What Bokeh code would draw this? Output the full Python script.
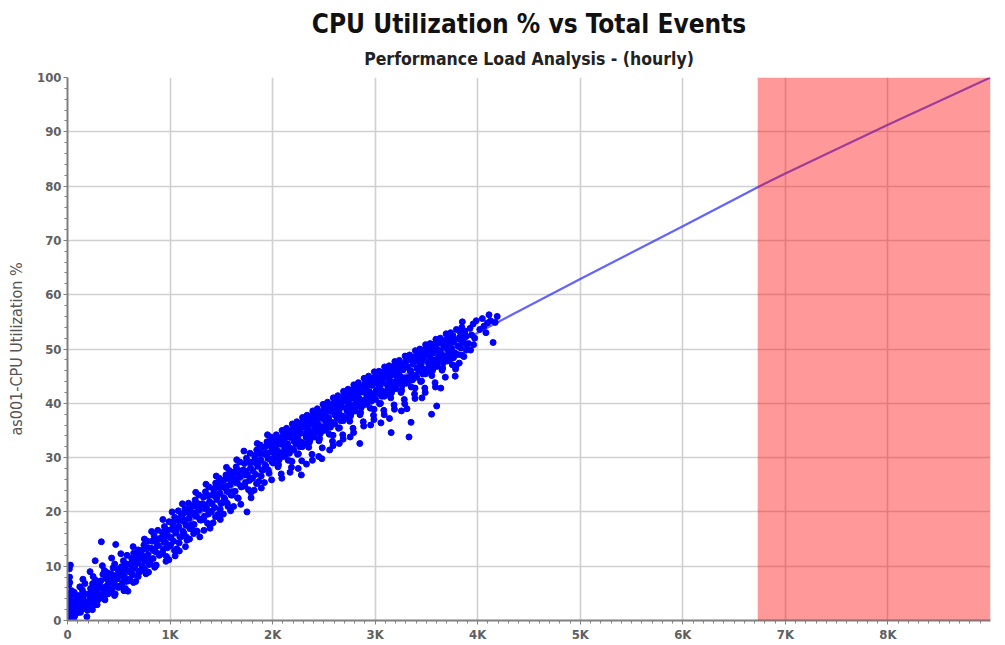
from bokeh.plotting import figure
from bokeh.models import (Range1d, FixedTicker, BoxAnnotation, Title, ColumnDataSource)
from bokeh.embed import file_html
from bokeh.resources import INLINE

# ---------------- data ----------------
title_text = "CPU Utilization % vs Total Events"
subtitle_text = "Performance Load Analysis - (hourly)"
y_label = "as001-CPU Utilization %"

x_ticks = [0, 1000, 2000, 3000, 4000, 5000, 6000, 7000, 8000]
x_tick_labels = ["0", "1K", "2K", "3K", "4K", "5K", "6K", "7K", "8K"]
y_ticks = [0, 10, 20, 30, 40, 50, 60, 70, 80, 90, 100]

threshold_start = 6730   # start of red "overload" zone (events)

# fitted trend line
trend_events = [0, 500, 1000, 1500, 2000, 2500, 3000, 3500, 3900, 4000, 5000, 6000, 6730, 7000, 8000, 9000]
trend_cpu = [0.5, 8.0, 15.0, 23.0, 30.5, 36.8, 42.3, 47.4, 52.0, 53.0, 62.9, 72.6, 79.8, 82.3, 91.3, 100.0]

# hourly samples, 0 - 1000 events
events_low = [5, 10, 8, 15, 12, 20, 18, 25, 30, 22, 35, 40, 45, 28,
    50, 60, 70, 80, 90, 55, 65, 75, 85, 95,
    105, 115, 125, 135, 145, 155, 165, 175, 185, 195, 120, 150, 110, 170,
    205, 215, 225, 235, 245, 255, 265, 275, 285, 295, 220, 270, 250, 290,
    305, 315, 325, 335, 345, 355, 365, 375, 385, 395, 330, 340, 360, 390,
    405, 415, 425, 435, 445, 455, 465, 475, 485, 495, 470, 430, 460, 490,
    505, 515, 525, 535, 545, 555, 565, 575, 585, 595, 550, 520, 580, 540,
    605, 615, 625, 635, 645, 655, 665, 675, 685, 695, 640, 660, 690, 620,
    705, 715, 725, 735, 745, 755, 765, 775, 785, 795, 710, 750, 780, 730, 790,
    805, 815, 825, 835, 845, 855, 865, 875, 885, 895, 820, 850, 880, 840,
    905, 915, 925, 935, 945, 955, 965, 975, 985, 995, 930, 960, 990, 950]
cpu_low = [0.5, 2.0, 3.5, 5.0, 6.5, 8.0, 9.5, 1.0, 4.0, 7.0, 2.5, 5.5, 3.0, 10.2,
    1.2, 3.0, 0.8, 2.2, 4.5, 4.8, 5.2, 1.8, 3.6, 2.8,
    1.5, 3.2, 4.4, 2.1, 5.6, 3.8, 2.6, 4.9, 3.3, 1.9, 6.2, 7.6, 4.6, 6.8,
    2.8, 4.6, 5.9, 3.5, 6.8, 4.2, 2.9, 7.4, 5.1, 3.8, 9.0, 11.0, 8.1, 6.3,
    3.9, 6.0, 7.3, 4.6, 8.5, 5.5, 3.8, 7.9, 6.4, 4.9, 14.5, 10.1, 9.2, 8.8,
    5.1, 7.4, 8.6, 5.8, 9.7, 6.9, 4.9, 8.3, 7.7, 6.1, 14.0, 11.5, 10.4, 9.4,
    6.2, 8.8, 9.9, 7.0, 11.0, 8.1, 5.9, 10.4, 9.1, 7.3, 5.5, 12.3, 12.0, 8.9,
    7.6, 10.2, 11.5, 8.4, 12.4, 9.6, 7.2, 11.8, 10.6, 8.8, 13.6, 11.0, 13.0, 9.1,
    9.0, 11.6, 12.9, 9.8, 13.9, 11.0, 8.6, 13.2, 12.1, 10.3, 9.2, 15.0, 14.6, 11.4, 8.9,
    10.6, 13.3, 14.6, 11.4, 15.6, 12.7, 10.2, 14.9, 13.8, 12.0, 16.4, 9.8, 16.6, 13.0,
    12.2, 15.0, 16.2, 13.1, 17.3, 14.4, 11.8, 16.6, 15.5, 13.7, 18.6, 10.9, 18.2, 15.6]

# 1000 - 2000 events
events_mid = [1005, 1015, 1025, 1035, 1045, 1055, 1065, 1075, 1085, 1095, 1020, 1050, 1080, 1040, 1090,
    1105, 1115, 1125, 1135, 1145, 1155, 1165, 1175, 1185, 1195, 1120, 1150, 1180, 1140, 1190,
    1205, 1215, 1225, 1235, 1245, 1255, 1265, 1275, 1285, 1295, 1230, 1250, 1280, 1240, 1290,
    1305, 1315, 1325, 1335, 1345, 1355, 1365, 1375, 1385, 1395, 1330, 1350, 1380, 1340, 1390,
    1405, 1415, 1425, 1435, 1445, 1455, 1465, 1475, 1485, 1495, 1420, 1450, 1480, 1440, 1490,
    1505, 1515, 1525, 1535, 1545, 1555, 1565, 1575, 1585, 1595, 1520, 1550, 1580, 1540, 1590,
    1605, 1615, 1625, 1635, 1645, 1655, 1665, 1675, 1685, 1695, 1620, 1650, 1680, 1640, 1690,
    1705, 1715, 1725, 1735, 1745, 1755, 1765, 1775, 1785, 1795, 1750, 1720, 1780, 1740, 1790,
    1805, 1815, 1825, 1835, 1845, 1855, 1865, 1875, 1885, 1895, 1820, 1850, 1880, 1840, 1890,
    1905, 1915, 1925, 1935, 1945, 1955, 1965, 1975, 1985, 1995, 1920, 1950, 1980, 1940, 1990]
cpu_mid = [13.9, 16.8, 18.1, 14.6, 19.0, 16.1, 13.2, 18.4, 17.3, 15.4, 20.0, 11.9, 20.2, 16.6, 12.8,
    15.4, 18.4, 19.6, 16.1, 20.6, 17.6, 14.8, 19.9, 18.8, 16.9, 21.5, 13.6, 21.6, 18.2, 15.0,
    17.0, 19.9, 21.2, 17.7, 22.2, 19.2, 16.4, 21.5, 20.4, 18.5, 16.0, 23.6, 23.1, 19.8, 15.4,
    18.5, 21.5, 22.7, 19.2, 23.7, 20.7, 17.9, 23.0, 21.9, 20.0, 16.6, 25.1, 24.6, 21.3, 17.0,
    20.1, 23.1, 24.3, 20.8, 25.3, 22.3, 19.5, 24.6, 23.5, 21.6, 18.0, 26.6, 26.2, 22.9, 18.6,
    21.6, 24.6, 25.8, 22.3, 26.8, 23.8, 21.0, 26.1, 25.0, 23.1, 19.6, 28.2, 27.6, 24.4, 20.2,
    23.1, 26.1, 27.3, 23.8, 28.3, 25.3, 22.5, 27.6, 26.5, 24.6, 21.0, 29.6, 29.2, 25.9, 21.4,
    24.7, 27.7, 28.9, 25.4, 29.9, 26.9, 24.1, 29.2, 28.1, 26.2, 20.0, 31.2, 30.8, 27.5, 22.6,
    26.2, 29.2, 30.4, 26.9, 31.4, 28.4, 25.6, 30.7, 29.6, 27.7, 24.0, 32.6, 32.3, 29.0, 24.4,
    27.7, 30.7, 31.9, 28.4, 32.9, 29.9, 27.1, 32.2, 31.1, 29.2, 25.4, 34.2, 33.8, 30.5, 25.9]

# 2000 - 3000 events
events_high = [2005, 2012, 2020, 2028, 2036, 2044, 2052, 2060, 2068, 2076, 2084, 2092, 2098, 2040, 2090, 2016, 2064,
    2105, 2112, 2120, 2128, 2136, 2144, 2152, 2160, 2168, 2176, 2184, 2192, 2198, 2140, 2170, 2116, 2164,
    2205, 2212, 2220, 2228, 2236, 2244, 2252, 2260, 2268, 2276, 2284, 2292, 2298, 2240, 2250, 2216, 2264, 2280,
    2305, 2312, 2320, 2328, 2336, 2344, 2352, 2360, 2368, 2376, 2384, 2392, 2398, 2340, 2330, 2316, 2364, 2388,
    2405, 2412, 2420, 2428, 2436, 2444, 2452, 2460, 2468, 2476, 2484, 2492, 2498, 2440, 2450, 2416, 2464, 2480,
    2505, 2512, 2520, 2528, 2536, 2544, 2552, 2560, 2568, 2576, 2584, 2592, 2598, 2540, 2556, 2516, 2564, 2590,
    2605, 2612, 2620, 2628, 2636, 2644, 2652, 2660, 2668, 2676, 2684, 2692, 2698, 2640, 2650, 2616, 2664, 2688,
    2705, 2712, 2720, 2728, 2736, 2744, 2752, 2760, 2768, 2776, 2784, 2792, 2798, 2740, 2756, 2716, 2764, 2790,
    2805, 2812, 2820, 2828, 2836, 2844, 2852, 2860, 2868, 2876, 2884, 2892, 2898, 2840, 2850, 2816, 2864, 2888,
    2905, 2912, 2920, 2928, 2936, 2944, 2952, 2960, 2968, 2976, 2984, 2992, 2998, 2940, 2956, 2916, 2964, 2988]
cpu_high = [29.0, 32.0, 33.3, 30.1, 34.2, 31.3, 28.3, 33.5, 32.5, 30.5, 27.0, 35.0, 34.0, 32.6, 26.2, 30.8, 29.6,
    30.2, 33.2, 34.5, 31.3, 35.4, 32.5, 29.5, 34.7, 33.7, 31.7, 28.2, 36.2, 35.2, 33.8, 27.3, 32.0, 30.8,
    31.4, 34.4, 35.7, 32.5, 36.6, 33.7, 30.7, 35.9, 34.9, 32.9, 29.4, 37.4, 36.4, 35.0, 28.0, 33.2, 32.0, 26.8,
    32.6, 35.6, 36.9, 33.7, 37.8, 34.9, 31.9, 37.1, 36.1, 34.1, 30.6, 38.6, 37.6, 36.2, 28.8, 34.4, 33.2, 29.5,
    33.8, 36.8, 38.1, 34.9, 39.0, 36.1, 33.1, 38.3, 37.3, 35.3, 31.8, 39.8, 38.8, 37.4, 30.2, 35.6, 34.4, 29.8,
    35.0, 38.0, 39.3, 36.1, 40.2, 37.3, 34.3, 39.5, 38.5, 36.5, 33.0, 41.0, 40.0, 38.6, 31.4, 36.8, 35.6, 32.2,
    36.2, 39.2, 40.5, 37.3, 41.4, 38.5, 35.5, 40.7, 39.7, 37.7, 34.2, 42.2, 41.2, 39.8, 32.6, 38.0, 36.8, 33.4,
    37.4, 40.4, 41.7, 38.5, 42.6, 39.7, 36.7, 41.9, 40.9, 38.9, 35.4, 43.4, 42.4, 41.0, 33.8, 39.2, 38.0, 34.6,
    38.6, 41.6, 42.9, 39.7, 43.8, 40.9, 37.9, 43.1, 42.1, 40.1, 36.6, 44.6, 43.6, 42.2, 32.6, 40.4, 39.2, 35.8,
    39.8, 42.8, 44.1, 40.9, 45.0, 42.1, 39.1, 44.3, 43.3, 41.3, 37.8, 45.8, 44.8, 43.4, 36.0, 41.6, 40.4, 37.0]

# 3000 - 4200 events
events_top = [3005, 3012, 3020, 3028, 3036, 3044, 3052, 3060, 3068, 3076, 3084, 3092, 3098, 3040, 3056, 3016, 3064, 3088,
    3105, 3112, 3120, 3128, 3136, 3144, 3152, 3160, 3168, 3176, 3184, 3192, 3198, 3140, 3156, 3116, 3164, 3188,
    3205, 3212, 3220, 3228, 3236, 3244, 3252, 3260, 3268, 3276, 3284, 3292, 3298, 3240, 3256, 3216, 3264, 3288,
    3305, 3312, 3320, 3328, 3336, 3344, 3352, 3360, 3368, 3376, 3384, 3392, 3398, 3310, 3330, 3350, 3364, 3388,
    3405, 3412, 3420, 3428, 3436, 3444, 3452, 3460, 3468, 3476, 3484, 3492, 3498, 3440, 3456, 3416, 3464, 3488,
    3505, 3512, 3520, 3528, 3536, 3544, 3552, 3560, 3568, 3576, 3584, 3592, 3598, 3540, 3550, 3516, 3564, 3588,
    3605, 3612, 3620, 3628, 3636, 3644, 3652, 3660, 3668, 3676, 3684, 3692, 3698, 3600, 3640, 3616, 3664,
    3705, 3712, 3720, 3728, 3736, 3744, 3752, 3760, 3768, 3776, 3784, 3792, 3740, 3716, 3764, 3780,
    3805, 3815, 3825, 3835, 3845, 3855, 3865, 3875, 3885, 3895, 3820, 3850,
    3910, 3925, 3940, 3955, 3970, 3985, 3930, 3960,
    4020, 4045, 4060, 4080, 4110, 4125, 4150, 4190, 4095, 4170]
cpu_top = [40.7, 43.7, 45.0, 41.8, 45.9, 43.0, 40.0, 45.2, 44.2, 42.2, 38.7, 46.7, 45.7, 44.3, 36.4, 42.5, 41.3, 37.9,
    41.7, 44.7, 46.0, 42.8, 46.9, 44.0, 41.0, 46.2, 45.2, 43.2, 39.7, 47.7, 46.7, 37.2, 34.6, 43.5, 42.3, 38.9,
    42.7, 45.7, 47.0, 43.8, 47.9, 45.0, 42.0, 47.2, 46.2, 44.2, 40.7, 48.7, 47.7, 46.3, 38.6, 44.5, 43.3, 39.9,
    43.7, 46.7, 48.0, 44.8, 48.9, 46.0, 43.0, 48.2, 47.2, 45.2, 41.7, 49.7, 48.7, 39.0, 33.8, 36.5, 44.3, 40.9,
    44.8, 47.8, 49.1, 45.9, 50.0, 47.1, 44.1, 49.3, 48.3, 46.3, 42.8, 50.8, 49.8, 48.4, 41.0, 46.6, 45.4, 42.0,
    45.8, 48.8, 50.1, 46.9, 51.0, 48.1, 45.1, 50.3, 49.3, 47.3, 43.8, 51.8, 50.8, 49.4, 38.0, 47.6, 46.4, 43.0,
    46.8, 49.8, 51.1, 47.9, 52.0, 49.1, 46.1, 51.3, 50.3, 48.3, 44.8, 52.8, 51.8, 39.5, 42.8, 48.6, 47.4,
    47.8, 50.8, 52.1, 48.9, 53.0, 50.1, 47.1, 52.3, 51.3, 49.3, 46.3, 53.6, 51.4, 49.6, 48.4, 45.0,
    49.0, 51.8, 53.2, 50.2, 54.0, 51.2, 48.6, 53.3, 52.3, 50.8, 47.4, 55.0,
    51.0, 53.8, 52.6, 54.6, 52.0, 55.2, 49.8, 50.8,
    53.6, 55.6, 54.2, 53.0, 56.3, 55.2, 51.2, 56.0, 54.8, 54.9]

# extra samples in the dense core of the cloud
events_core = [9, 27, 43, 58, 74, 89, 109, 127, 143, 158, 174, 189,
    209, 227, 243, 258, 274, 289, 309, 327, 343, 358, 374, 389,
    409, 427, 443, 458, 474, 489, 509, 527, 543, 558, 574, 589,
    609, 627, 643, 658, 674, 689, 709, 727, 743, 758, 774, 789,
    809, 827, 843, 858, 874, 889, 909, 927, 943, 958, 974, 989,
    1009, 1027, 1043, 1058, 1074, 1089, 1109, 1127, 1143, 1158, 1174, 1189,
    1209, 1227, 1243, 1258, 1274, 1289, 1309, 1327, 1343, 1358, 1374, 1389,
    1409, 1427, 1443, 1458, 1474, 1489, 1509, 1527, 1543, 1558, 1574, 1589,
    1609, 1627, 1643, 1658, 1674, 1689, 1709, 1727, 1743, 1758, 1774, 1789,
    1809, 1827, 1843, 1858, 1874, 1889, 1909, 1927, 1943, 1958, 1974, 1989,
    2009, 2027, 2043, 2058, 2074, 2089, 2109, 2127, 2143, 2158, 2174, 2189,
    2209, 2227, 2243, 2258, 2274, 2289, 2309, 2327, 2343, 2358, 2374, 2389,
    2409, 2427, 2443, 2458, 2474, 2489, 2509, 2527, 2543, 2558, 2574, 2589,
    2609, 2627, 2643, 2658, 2674, 2689, 2709, 2727, 2743, 2758, 2774, 2789,
    2809, 2827, 2843, 2858, 2874, 2889, 2909, 2927, 2943, 2958, 2974, 2989,
    3009, 3027, 3043, 3058, 3074, 3089, 3109, 3127, 3143, 3158, 3174, 3189,
    3209, 3227, 3243, 3258, 3274, 3289, 3309, 3327, 3343, 3358, 3374, 3389,
    3409, 3427, 3443, 3458, 3474, 3489, 3509, 3527, 3543, 3558, 3574, 3589,
    3609, 3627, 3643, 3658, 3674, 3689, 3709, 3727, 3743, 3758, 3774, 3789,
    3809, 3827, 3843, 3858, 3874, 3889]
cpu_core = [0.6, 1.9, 3.0, 0.3, 2.5, 1.4, 3.5, 1.5, 2.9, 4.6, 2.2, 0.7,
    3.6, 5.3, 2.0, 4.6, 6.0, 2.9, 6.9, 4.7, 6.1, 4.0, 5.4, 7.5,
    5.5, 7.0, 8.3, 4.6, 7.6, 6.3, 8.6, 6.4, 8.0, 9.9, 7.2, 5.4,
    8.9, 10.8, 7.0, 10.0, 11.6, 8.1, 12.6, 10.1, 11.8, 9.3, 10.9, 13.4,
    11.2, 13.1, 14.7, 10.1, 13.9, 12.3, 15.2, 12.4, 14.4, 16.8, 13.4, 11.2,
    15.3, 17.7, 12.9, 16.7, 18.7, 14.3, 19.6, 16.4, 18.5, 15.4, 17.4, 20.5,
    17.6, 19.5, 21.1, 16.5, 20.3, 18.7, 21.4, 18.6, 20.6, 23.0, 19.6, 17.4,
    21.5, 23.9, 19.1, 22.9, 24.9, 20.5, 25.8, 22.6, 24.7, 21.6, 23.6, 26.7,
    23.7, 25.6, 27.2, 22.6, 26.4, 24.8, 27.6, 24.8, 26.8, 29.2, 25.8, 23.6,
    27.6, 30.0, 25.2, 29.0, 31.0, 26.6, 31.9, 28.7, 30.8, 27.7, 29.7, 32.8,
    29.8, 31.7, 33.3, 28.7, 32.5, 30.9, 33.3, 30.5, 32.5, 34.9, 31.5, 29.3,
    33.0, 35.4, 30.6, 34.4, 36.4, 32.0, 37.0, 33.8, 35.9, 32.8, 34.8, 37.9,
    34.6, 36.5, 38.1, 33.5, 37.3, 35.7, 38.1, 35.3, 37.3, 39.7, 36.3, 34.1,
    37.8, 40.2, 35.4, 39.2, 41.2, 36.8, 41.8, 38.6, 40.7, 37.6, 39.6, 42.7,
    39.4, 41.3, 42.9, 38.3, 42.1, 40.5, 42.9, 40.1, 42.1, 44.5, 41.1, 38.9,
    42.3, 44.7, 39.9, 43.7, 45.7, 41.3, 46.1, 42.9, 45.0, 41.9, 43.9, 47.0,
    43.5, 45.4, 47.0, 42.4, 46.2, 44.6, 46.8, 44.0, 46.0, 48.4, 45.0, 42.8,
    46.4, 48.8, 44.0, 47.8, 49.8, 45.4, 50.2, 47.0, 49.1, 46.0, 48.0, 51.1,
    47.6, 49.5, 51.1, 46.5, 50.3, 48.7, 50.9, 48.1, 50.1, 52.5, 49.1, 46.9,
    50.5, 52.2, 48.9, 51.5, 52.9, 49.8]

events = events_low + events_mid + events_high + events_top + events_core
cpu = cpu_low + cpu_mid + cpu_high + cpu_top + cpu_core

# ---------------- figure ----------------
p = figure(width=1005, height=645, output_backend="svg", toolbar_location=None,
           x_range=Range1d(0, 9000), y_range=Range1d(0, 100),
           min_border_left=67, min_border_right=15, min_border_top=77, min_border_bottom=25,
           background_fill_color="white", border_fill_color="white")
p.outline_line_color = None

font = "'Liberation Sans Narrow', 'DejaVu Sans Condensed', 'Liberation Sans', sans-serif"

sub = Title(text=subtitle_text, align="center", text_font_size="17.5px",
            text_font_style="bold", text_color="#222222", text_font=font, standoff=17)
main = Title(text=title_text, align="center", text_font_size="26px",
             text_font_style="bold", text_color="#111111", text_font=font, standoff=0)
p.add_layout(sub, "above")
p.add_layout(main, "above")

# grid
p.xgrid.grid_line_color = "#d0d0d0"
p.ygrid.grid_line_color = "#d0d0d0"
p.xgrid.grid_line_width = 1.6
p.ygrid.grid_line_width = 1.6

# axes
x_minor = [v for v in range(0, 9001, 100) if v % 1000 != 0]
y_minor = [v for v in range(0, 101, 2) if v % 10 != 0]
p.xaxis.ticker = FixedTicker(ticks=x_ticks, minor_ticks=x_minor)
p.yaxis.ticker = FixedTicker(ticks=y_ticks, minor_ticks=y_minor)
p.xaxis.major_label_overrides = {t: l for t, l in zip(x_ticks, x_tick_labels)}

for ax in (p.xaxis[0], p.yaxis[0]):
    ax.axis_line_color = "#808080"
    ax.axis_line_width = 2
    ax.major_tick_line_color = "#808080"
    ax.minor_tick_line_color = "#808080"
    ax.major_tick_in = 0
    ax.major_tick_out = 4
    ax.minor_tick_in = 0
    ax.minor_tick_out = 3
    ax.major_label_text_font_size = "13px"
    ax.major_label_text_color = "#606060"
    ax.major_label_text_font = font
    ax.major_label_text_font_style = "bold"
    ax.major_label_standoff = 2

p.yaxis.axis_label = y_label
p.yaxis.axis_label_text_font_size = "16px"
p.yaxis.axis_label_text_font_style = "normal"
p.yaxis.axis_label_text_color = "#555555"
p.yaxis.axis_label_text_font = font
p.yaxis.axis_label_standoff = 8

# trend line and samples
p.line(trend_events, trend_cpu, line_color="#3c3cff", line_alpha=0.8, line_width=2.2)
src = ColumnDataSource(dict(x=events, y=cpu))
p.scatter("x", "y", source=src, size=6, fill_color="#0000ff", line_color="#0000ff")

# overload zone
p.add_layout(BoxAnnotation(left=threshold_start, fill_color="#ff0000", fill_alpha=0.4,
                           line_color=None))

open("out.html", "w").write(file_html(p, INLINE))
